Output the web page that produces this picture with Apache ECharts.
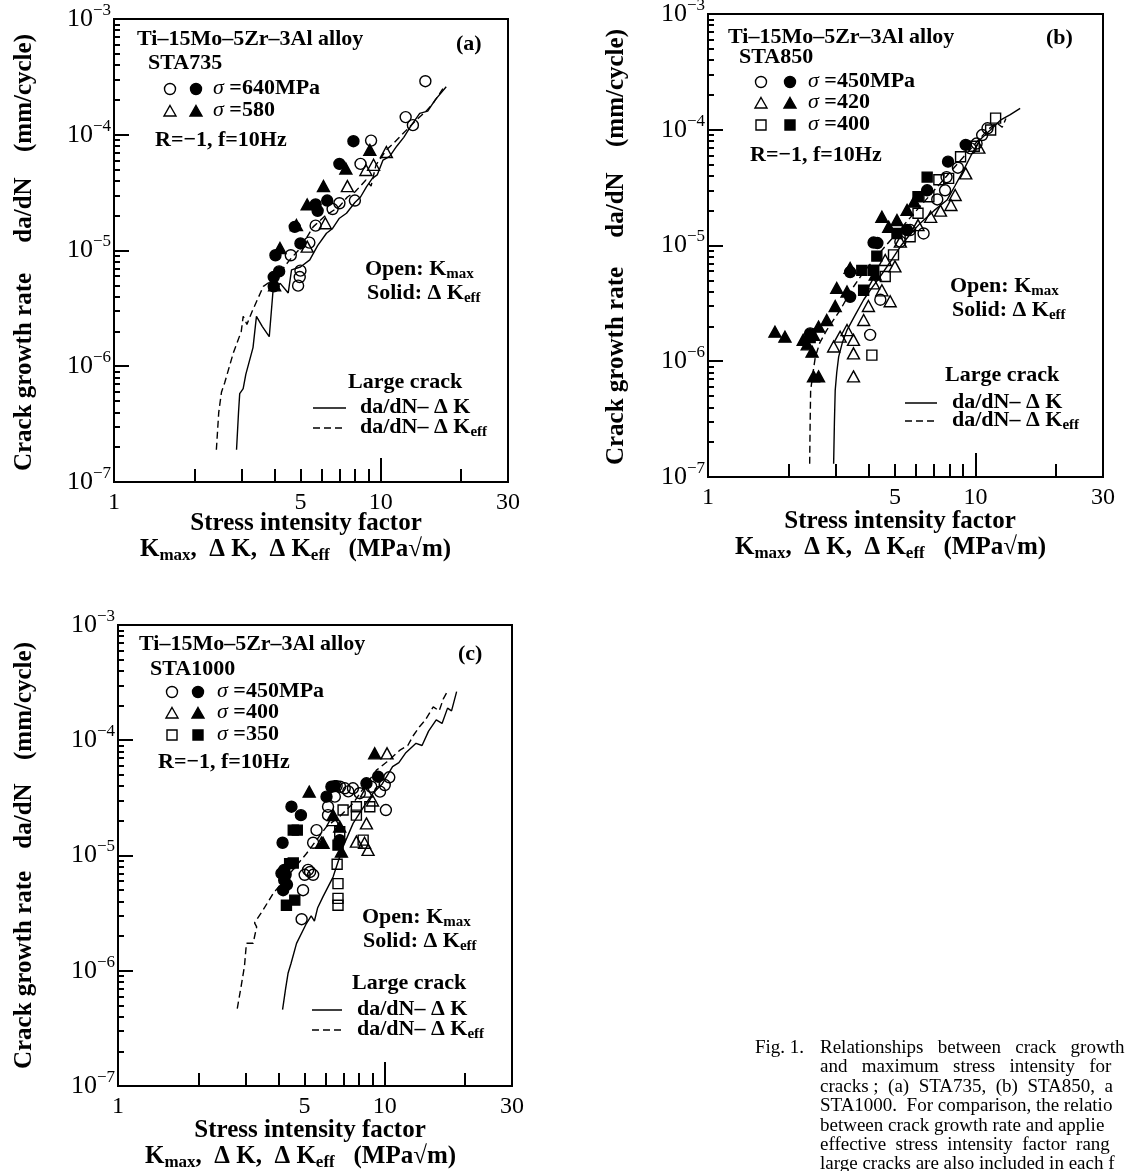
<!DOCTYPE html>
<html>
<head>
<meta charset="utf-8">
<script src="https://cdn.jsdelivr.net/npm/echarts@6/dist/echarts.min.js"></script>
<style>
  html, body { margin: 0; padding: 0; background: #fff; }
  #chart { width: 1125px; height: 1171px; }
</style>
</head>
<body>
<div id="chart"></div>
<script>
// ---- data: [K (MPa√m), da/dN (mm/cycle)] ----
// (a) STA735
const a640Open  = [[14.7,2.9e-4],[12.4,1.42e-4],[13.2,1.21e-4],[9.2,8.9e-5],[8.4,5.6e-5],[8.0,2.7e-5],[7.0,2.56e-5],[6.6,2.28e-5],[5.7,1.64e-5],[5.4,1.17e-5],[4.6,9.1e-6],[5.0,6.7e-6],[4.97,5.9e-6],[4.9,4.97e-6]];
const a640Solid = [[7.9,8.8e-5],[7.0,5.6e-5],[6.3,2.7e-5],[5.7,2.5e-5],[5.8,2.2e-5],[4.76,1.6e-5],[5.0,1.15e-5],[4.03,9.1e-6],[4.16,6.6e-6],[3.97,5.9e-6],[3.97,4.9e-6]];
const a580Open  = [[10.5,7.1e-5],[9.4,5.5e-5],[8.8,4.96e-5],[7.5,3.6e-5],[6.2,1.72e-5],[5.3,1.08e-5]];
const a580Solid = [[9.1,7.4e-5],[7.4,5.1e-5],[6.1,3.6e-5],[5.3,2.5e-5],[4.83,1.66e-5],[4.19,1.05e-5],[4.0,5.0e-6]];
const aLargeDK   = [[2.88,1.9e-7],[2.93,4.0e-7],[2.96,5.8e-7],[3.05,6.4e-7],[3.12,8.5e-7],[3.32,1.45e-6],[3.42,2.7e-6],[3.6,2.2e-6],[3.82,1.8e-6],[3.95,4.6e-6],[4.2,5.2e-6],[4.5,4.3e-6],[4.63,6.8e-6],[5.0,7.2e-6],[5.42,8.3e-6],[5.8,1.1e-5],[6.26,1.41e-5],[6.6,1.55e-5],[7.0,1.9e-5],[7.44,2.1e-5],[8.0,2.6e-5],[8.4,2.9e-5],[8.84,3.55e-5],[9.3,4.2e-5],[9.7,4.5e-5],[10.2,6.05e-5],[10.8,6.5e-5],[11.5,8.0e-5],[12.2,9.5e-5],[13.0,1.2e-4],[14.0,1.53e-4],[15.0,1.6e-4],[16.0,2.0e-4],[17.6,2.6e-4]];
const aLargeDKeff = [[2.42,1.9e-7],[2.47,4.0e-7],[2.53,6.0e-7],[2.6,7.2e-7],[2.8,1.3e-6],[3.0,2.0e-6],[3.05,2.7e-6],[3.15,2.3e-6],[3.3,3.0e-6],[3.63,4.9e-6],[3.9,5.5e-6],[4.2,6.5e-6],[4.56,8.3e-6],[5.0,1.05e-5],[5.58,1.6e-5],[6.2,2.0e-5],[7.0,2.4e-5],[7.5,2.9e-5],[8.0,3.2e-5],[8.8,4.07e-5],[9.2,3.6e-5],[9.6,5.5e-5],[10.5,7.4e-5],[11.2,8.5e-5],[12.0,1.0e-4],[13.6,1.34e-4],[14.8,1.6e-4],[15.8,1.9e-4],[17.1,2.5e-4]];

// (b) STA850
const b450Open  = [[11.1,1.03e-4],[10.1,7.6e-5],[9.6,6.9e-5],[7.8,3.9e-5],[7.7,3.0e-5],[7.2,2.5e-5],[6.4,1.27e-5],[5.7,1.36e-5],[5.24,1.08e-5],[4.41,3.4e-6],[4.04,1.69e-6],[10.6,9.0e-5],[8.6,4.7e-5]];
const b450Solid = [[9.2,7.4e-5],[7.9,5.3e-5],[6.6,3.0e-5],[5.55,1.36e-5],[4.16,1.06e-5],[3.4,5.9e-6],[3.4,3.6e-6],[2.41,1.74e-6],[4.3,1.05e-5]];
const b420Open  = [[9.2,4.2e-5],[8.4,2.73e-5],[8.1,2.24e-5],[6.8,1.77e-5],[5.24,1.08e-5],[5.0,6.6e-6],[4.16,4.7e-6],[4.47,4.1e-6],[4.8,3.3e-6],[3.98,3.0e-6],[3.82,2.27e-6],[3.31,1.86e-6],[3.5,1.53e-6],[2.95,1.34e-6],[3.5,1.17e-6],[3.5,7.4e-7],[3.12,1.63e-6],[7.4,2.0e-5],[6.1,1.5e-5],[10.3,7.0e-5],[4.6,7.5e-6]];
const b420Solid = [[4.47,1.77e-5],[5.55,2.03e-5],[5.09,1.66e-5],[4.74,1.45e-5],[3.4,6.4e-6],[3.03,4.3e-6],[3.31,4.0e-6],[2.99,3.0e-6],[2.78,2.27e-6],[2.59,1.99e-6],[1.78,1.8e-6],[1.94,1.63e-6],[2.27,1.53e-6],[2.45,1.21e-6],[2.48,7.4e-7],[2.59,7.4e-7],[2.48,1.69e-6],[4.22,5.6e-6],[2.35,1.4e-6],[5.9,2.4e-5]];
const b400Open  = [[11.9,1.26e-4],[11.4,9.95e-5],[8.8,5.85e-5],[7.94,3.8e-5],[7.3,3.7e-5],[6.7,2.64e-5],[5.7,1.19e-5],[4.94,8.3e-6],[4.6,5.4e-6],[4.16,6.1e-6],[4.1,1.13e-6],[9.9,7.2e-5],[6.1,1.9e-5]];
const b400Solid = [[6.6,3.9e-5],[6.1,2.64e-5],[5.09,1.27e-5],[4.28,8.1e-6],[3.76,6.1e-6],[4.16,6.1e-6],[3.82,4.1e-6],[2.41,1.6e-6]];
const bLargeDK   = [[2.95,1.3e-7],[2.97,3.0e-7],[2.99,5.6e-7],[3.03,8.0e-7],[3.08,1.09e-6],[3.18,1.45e-6],[3.31,1.86e-6],[3.55,2.5e-6],[3.82,3.4e-6],[4.1,4.3e-6],[4.41,5.4e-6],[4.8,7.2e-6],[5.24,9.8e-6],[5.7,1.25e-5],[6.22,1.56e-5],[7.0,2.0e-5],[7.83,2.47e-5],[8.4,3.3e-5],[9.04,4.5e-5],[9.7,6.2e-5],[10.4,8.2e-5],[11.4,1.0e-4],[12.4,1.21e-4],[13.5,1.35e-4],[14.7,1.53e-4]];
const bLargeDKeff = [[2.4,1.3e-7],[2.41,3.0e-7],[2.42,5.6e-7],[2.47,8.0e-7],[2.52,1.09e-6],[2.62,1.45e-6],[2.78,1.86e-6],[3.12,2.77e-6],[3.5,4.4e-6],[3.8,5.8e-6],[4.16,7.5e-6],[4.94,1.19e-5],[6.05,2.03e-5],[7.39,3.44e-5],[9.04,5.85e-5],[11.1,9.95e-5],[12.0,1.15e-4],[12.6,1.05e-4],[13.0,1.25e-4]];

// (c) STA1000
const c450Open  = [[10.4,4.77e-5],[10.0,4.09e-5],[9.6,3.58e-5],[8.9,3.95e-5],[10.1,2.48e-5],[7.6,3.83e-5],[7.08,3.83e-5],[6.8,3.95e-5],[6.5,3.24e-5],[6.13,2.65e-5],[6.13,2.24e-5],[8.06,3.47e-5],[5.55,1.66e-5],[5.39,1.29e-5],[5.16,7.5e-6],[5.39,6.8e-6],[5.01,6.8e-6],[4.94,5.0e-6],[4.88,2.8e-6],[7.3,3.6e-5],[6.6,4.0e-5],[5.25,7.2e-6]];
const c450Solid = [[9.44,4.83e-5],[8.54,4.23e-5],[6.31,3.95e-5],[6.05,3.24e-5],[4.47,2.65e-5],[4.85,2.24e-5],[4.14,1.29e-5],[4.2,7.5e-6],[4.2,6.1e-6],[4.16,5.0e-6],[6.78,1.36e-5],[4.25,6.8e-6],[4.3,5.6e-6],[4.1,7.0e-6],[6.5,4.0e-5]];
const c400Open  = [[10.2,7.7e-5],[8.54,3.58e-5],[8.54,1.9e-5],[7.83,1.32e-5],[8.4,1.29e-5],[8.66,1.12e-5],[6.4,2.03e-5],[5.79,1.29e-5],[9.0,3.0e-5]];
const c400Solid = [[9.17,7.7e-5],[5.21,3.58e-5],[5.87,1.29e-5],[6.4,2.24e-5],[6.88,1.08e-5],[6.78,1.78e-5]];
const c350Open  = [[8.79,2.65e-5],[7.83,2.65e-5],[7.83,2.24e-5],[6.98,2.48e-5],[6.78,1.61e-5],[6.63,8.4e-6],[6.68,5.7e-6],[6.68,4.25e-6],[6.68,3.7e-6],[8.3,1.36e-5]];
const c350Solid = [[4.54,1.66e-5],[4.7,1.66e-5],[4.54,8.6e-6],[4.28,3.7e-6],[4.6,4.1e-6],[6.68,1.23e-5],[4.4,8.5e-6]];
const cLargeDK   = [[4.14,4.6e-7],[4.25,7.0e-7],[4.34,9.5e-7],[4.45,1.15e-6],[4.67,1.73e-6],[5.09,2.58e-6],[5.3,3.0e-6],[5.45,2.7e-6],[5.6,3.5e-6],[5.87,4.4e-6],[6.4,6.5e-6],[6.98,1.19e-5],[7.61,1.9e-5],[8.3,2.6e-5],[9.04,3.47e-5],[9.8,4.2e-5],[10.7,5.9e-5],[11.3,6.4e-5],[12.0,7.8e-5],[13.1,9.4e-5],[13.8,9.0e-5],[14.6,1.2e-4],[15.6,1.5e-4],[16.4,1.4e-4],[17.2,1.9e-4],[17.8,1.8e-4],[18.6,2.64e-4]];
const cLargeDKeff = [[2.8,4.7e-7],[2.9,7.5e-7],[2.98,1.1e-6],[3.03,1.73e-6],[3.21,1.73e-6],[3.31,2.4e-6],[3.25,2.6e-6],[3.5,3.37e-6],[3.82,4.7e-6],[4.41,7.0e-6],[5.09,1.04e-5],[6.05,1.78e-5],[6.8,2.2e-5],[7.61,2.84e-5],[8.3,3.8e-5],[9.31,5.5e-5],[10.2,6.5e-5],[11.4,8.2e-5],[12.2,9.0e-5],[12.8,1.1e-4],[13.5,1.31e-4],[14.2,1.5e-4],[15.2,1.95e-4],[16.0,1.8e-4],[16.6,2.3e-4],[17.3,2.73e-4]];

// ---- axis ticks and labels ----
const xLabelValues = [1, 5, 10, 30];
const xShortTicks = [2, 3, 4, 5, 6, 7, 8, 9, 20];
const xLongTicks = [10];
const yDecades = [1e-7, 1e-6, 1e-5, 1e-4, 1e-3];
const yMantissas = [2, 3, 4, 5, 6, 7, 8, 9];
const yMinorTicks = [];
yDecades.slice(0, 4).forEach(d => yMantissas.forEach(m => yMinorTicks.push(+(m * d).toPrecision(3))));

const SERIF = '"Liberation Serif", "DejaVu Serif", serif';

// plot boxes (a), (b), (c)
const boxes = [
  { left: 114, top: 19, width: 394, height: 463 },
  { left: 708, top: 14, width: 395, height: 463 },
  { left: 118, top: 625, width: 394, height: 461 }
];

const chart = echarts.init(document.getElementById('chart'), null, { renderer: 'canvas' });

const tickLine = { color: '#000', width: 2 };

const grid = boxes.map(b => Object.assign({ show: true, borderColor: '#000', borderWidth: 2, backgroundColor: 'transparent', outerBoundsMode: 'none' }, b))
  .concat(boxes.map(b => Object.assign({ show: false, outerBoundsMode: 'none' }, b)));

const xAxis = [];
const yAxis = [];
for (let i = 0; i < 6; i++) {
  const main = i < 3;
  xAxis.push({
    type: 'log', logBase: 10, gridIndex: i, min: 1, max: 30, position: 'bottom',
    axisLine: { show: false },
    axisTick: { show: true, inside: true, length: main ? 13 : 24, customValues: main ? xShortTicks : xLongTicks, lineStyle: tickLine },
    axisLabel: { show: main, customValues: xLabelValues, margin: 9, fontSize: 24, fontFamily: SERIF, color: '#000',
      formatter: v => String(Math.round(v)) },
    splitLine: { show: false }
  });
  yAxis.push({
    type: 'log', logBase: 10, gridIndex: i, min: 1e-7, max: 1e-3, position: 'left',
    axisLine: { show: false },
    axisTick: { show: true, inside: true, length: main ? 15 : 6, customValues: main ? yDecades : yMinorTicks, lineStyle: tickLine },
    axisLabel: { show: main, customValues: yDecades, margin: 3, color: '#000',
      formatter: v => '{b|10}{p|\u2212' + Math.abs(Math.round(Math.log10(v))) + '}',
      rich: {
        b: { fontSize: 26, fontFamily: SERIF, lineHeight: 34, color: '#000' },
        p: { fontSize: 17, fontFamily: SERIF, lineHeight: 14, verticalAlign: 'top', color: '#000' }
      } },
    splitLine: { show: false }
  });
}

function scat(g, data, symbol, filled, size) {
  return {
    type: 'scatter', xAxisIndex: g, yAxisIndex: g, data, symbol, symbolSize: size,
    itemStyle: { color: filled ? '#000' : 'rgba(0,0,0,0)', borderColor: '#000', borderWidth: 1.4, opacity: 1 },
    emphasis: { disabled: true }, silent: true, z: 3
  };
}
function crack(g, data, dashed) {
  return {
    type: 'line', xAxisIndex: g, yAxisIndex: g, data, symbol: 'none', showSymbol: false,
    lineStyle: { color: '#000', width: 1.4, type: dashed ? [7, 4] : 'solid' },
    emphasis: { disabled: true }, silent: true, z: 2
  };
}

const CIRC = [11, 11], TRI = [12, 11], SQ = [10, 10];
const series = [
  crack(0, aLargeDK, false), crack(0, aLargeDKeff, true),
  scat(0, a640Open, 'circle', false, CIRC), scat(0, a640Solid, 'circle', true, CIRC),
  scat(0, a580Open, 'triangle', false, TRI), scat(0, a580Solid, 'triangle', true, TRI),

  crack(1, bLargeDK, false), crack(1, bLargeDKeff, true),
  scat(1, b450Open, 'circle', false, CIRC), scat(1, b450Solid, 'circle', true, CIRC),
  scat(1, b420Open, 'triangle', false, TRI), scat(1, b420Solid, 'triangle', true, TRI),
  scat(1, b400Open, 'rect', false, SQ), scat(1, b400Solid, 'rect', true, SQ),

  crack(2, cLargeDK, false), crack(2, cLargeDKeff, true),
  scat(2, c450Open, 'circle', false, CIRC), scat(2, c450Solid, 'circle', true, CIRC),
  scat(2, c400Open, 'triangle', false, TRI), scat(2, c400Solid, 'triangle', true, TRI),
  scat(2, c350Open, 'rect', false, SQ), scat(2, c350Solid, 'rect', true, SQ)
];

// ---- text and legend decoration ----
const RICH = {
  m: { fontSize: 22, fontWeight: 'bold', fontFamily: SERIF, lineHeight: 24, verticalAlign: 'top', fill: '#000' },
  s: { fontSize: 15, fontWeight: 'bold', fontFamily: SERIF, lineHeight: 15, padding: [11, 0, 0, 0], verticalAlign: 'bottom', fill: '#000' },
  g: { fontSize: 22, fontStyle: 'italic', fontFamily: SERIF, lineHeight: 24, verticalAlign: 'top', fill: '#000' },
  M: { fontSize: 25, fontWeight: 'bold', fontFamily: SERIF, lineHeight: 27, verticalAlign: 'top', fill: '#000' },
  S: { fontSize: 17, fontWeight: 'bold', fontFamily: SERIF, lineHeight: 17, padding: [12, 0, 0, 0], verticalAlign: 'bottom', fill: '#000' }
};
function T(x, y, text, o, rot) {
  const el = { type: 'text', x, y, silent: true, z: 100,
    style: Object.assign({ text, fill: '#000', fontFamily: SERIF, fontSize: 22, fontWeight: 'bold', align: 'left', verticalAlign: 'middle', rich: RICH }, o || {}) };
  if (rot) el.rotation = rot;
  return el;
}
function sym(kind, filled, x, y) {
  const style = { fill: filled ? '#000' : 'none', stroke: '#000', lineWidth: 1.4 };
  if (kind === 'circle') return { type: 'circle', silent: true, z: 100, shape: { cx: x, cy: y, r: 5.5 }, style };
  if (kind === 'triangle') return { type: 'polygon', silent: true, z: 100, shape: { points: [[x, y - 5.5], [x + 6, y + 5], [x - 6, y + 5]] }, style };
  return { type: 'rect', silent: true, z: 100, shape: { x: x - 5, y: y - 5, width: 10, height: 10 }, style };
}
function seg(x1, x2, y, dashed) {
  return { type: 'line', silent: true, z: 100, shape: { x1, y1: y, x2, y2: y },
    style: { stroke: '#000', lineWidth: 1.5, lineDash: dashed ? [7, 4] : null } };
}

const panels = [
  { tag: '(a)', sta: 'STA735', tx: 137, ty: 39, sy: 63, tagX: 456, tagY: 44,
    rows: [['circle', '640MPa', 89], ['triangle', '580', 111]], ox: 170, fx: 196, lx: 213, ry: 140, rx: 155,
    openX: 365, openY: 270, solidX: 367, solidY: 294, lcX: 348, lcY: 382, l1: 313, l2: 346, ltx: 360, ly1: 408, ly2: 428,
    ytX: 25, yt: [372, 210, 93], xtX: 306, xtY: 524, kX: 140, kY: 551 },
  { tag: '(b)', sta: 'STA850', tx: 728, ty: 37, sy: 57, tagX: 1046, tagY: 38,
    rows: [['circle', '450MPa', 82], ['triangle', '420', 103], ['rect', '400', 125]], ox: 761, fx: 790, lx: 808, ry: 155, rx: 750,
    openX: 950, openY: 287, solidX: 952, solidY: 311, lcX: 945, lcY: 375, l1: 905, l2: 937, ltx: 952, ly1: 403, ly2: 421,
    ytX: 617, yt: [366, 205, 88], xtX: 900, xtY: 522, kX: 735, kY: 549 },
  { tag: '(c)', sta: 'STA1000', tx: 139, ty: 644, sy: 669, tagX: 458, tagY: 654,
    rows: [['circle', '450MPa', 692], ['triangle', '400', 713], ['rect', '350', 735]], ox: 172, fx: 198, lx: 217, ry: 762, rx: 158,
    openX: 362, openY: 918, solidX: 363, solidY: 942, lcX: 352, lcY: 983, l1: 312, l2: 342, ltx: 357, ly1: 1010, ly2: 1030,
    ytX: 25, yt: [970, 816, 701], xtX: 310, xtY: 1131, kX: 145, kY: 1158 }
];

const graphic = [];
panels.forEach(p => {
  graphic.push(T(p.tx, p.ty, 'Ti\u201315Mo\u20135Zr\u20133Al alloy'));
  graphic.push(T(p.tx + 11, p.sy, p.sta));
  graphic.push(T(p.tagX, p.tagY, p.tag));
  p.rows.forEach(r => {
    graphic.push(sym(r[0], false, p.ox, r[2]));
    graphic.push(sym(r[0], true, p.fx, r[2]));
    graphic.push(T(p.lx, r[2], '{g|\u03c3}{m| =' + r[1] + '}'));
  });
  graphic.push(T(p.rx, p.ry, 'R=\u22121, f=10Hz'));
  graphic.push(T(p.openX, p.openY, '{m|Open: K}{s|max}'));
  graphic.push(T(p.solidX, p.solidY, '{m|Solid: \u0394 K}{s|eff}'));
  graphic.push(T(p.lcX, p.lcY, 'Large crack'));
  graphic.push(seg(p.l1, p.l2, p.ly1, false));
  graphic.push(seg(p.l1, p.l2, p.ly2, true));
  graphic.push(T(p.ltx, p.ly1, '{m|da/dN\u2013 \u0394 K}'));
  graphic.push(T(p.ltx, p.ly2, '{m|da/dN\u2013 \u0394 K}{s|eff}'));
  // axis titles
  const rot = Math.PI / 2;
  graphic.push(T(p.ytX, p.yt[0], 'Crack growth rate', { align: 'center', fontSize: 25 }, rot));
  graphic.push(T(p.ytX, p.yt[1], 'da/dN', { align: 'center', fontSize: 25 }, rot));
  graphic.push(T(p.ytX, p.yt[2], '(mm/cycle)', { align: 'center', fontSize: 25 }, rot));
  graphic.push(T(p.xtX, p.xtY, 'Stress intensity factor', { align: 'center', fontSize: 25 }));
  graphic.push(T(p.kX, p.kY, '{M|K}{S|max}{M|,  \u0394 K,  \u0394 K}{S|eff}{M|   (MPa\u221am)}'));
});

// caption (cut off at the right edge, as in the original page)
const captionLines = [
  'Relationships   between   crack   growth',
  'and   maximum   stress   intensity   for',
  'cracks ;  (a)  STA735,  (b)  STA850,  a',
  'STA1000.  For comparison, the relatio',
  'between crack growth rate and applie',
  'effective  stress  intensity  factor  rang',
  'large cracks are also included in each f'
];
const capStyle = { fontWeight: 'normal', fontSize: 19, verticalAlign: 'middle' };
graphic.push(T(755, 1048, 'Fig. 1.', capStyle));
captionLines.forEach((line, i) => graphic.push(T(820, 1048 + i * 19.4, line, capStyle)));

chart.setOption({
  animation: false,
  backgroundColor: '#fff',
  textStyle: { fontFamily: SERIF },
  grid, xAxis, yAxis, series, graphic
});
</script>
</body>
</html>
